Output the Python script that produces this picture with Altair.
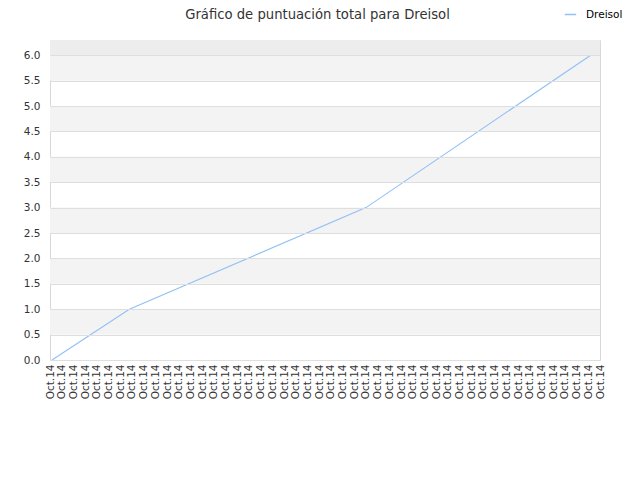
import altair as alt
import pandas as pd

# Data
x_labels = ["Oct.14"] * 48
line_pos = [0.17, 6.78, 27.0, 46.2]
line_vals = [0.0, 1.0, 3.0, 6.0]
series_name = "Dreisol"
title_text = "Gráfico de puntuación total para Dreisol"
band_starts = [0.5, 1.5, 2.5, 3.5, 4.5, 5.5]
y_ticks = [0.0, 0.5, 1.0, 1.5, 2.0, 2.5, 3.0, 3.5, 4.0, 4.5, 5.0, 5.5, 6.0]

W, H = 550, 320
Y_MAX = 6.3
X_MAX = len(x_labels) - 1

line_df = pd.DataFrame({"x": line_pos, "y": line_vals, "serie": [series_name] * len(line_pos)})
band_df = pd.DataFrame({"y": band_starts, "y2": [b + 0.5 for b in band_starts]})
top_df = pd.DataFrame({"y": [6.0], "y2": [Y_MAX]})
title_df = pd.DataFrame({"t": [title_text]})

xscale = alt.Scale(domain=[0, X_MAX], nice=False, zero=False)
yscale = alt.Scale(domain=[0, Y_MAX], nice=False)

xaxis = alt.Axis(
    values=list(range(len(x_labels))),
    labelExpr="'" + x_labels[0] + "'",
    labelAngle=-90,
    labelFont="DejaVu Sans",
    labelFontSize=10.5,
    labelColor="#333333",
    labelPadding=4,
    ticks=False,
    domain=False,
    grid=False,
    title=None,
    labelOverlap=False,
    labelFlush=False,
)
yaxis = alt.Axis(
    values=y_ticks,
    format=".1f",
    labelFont="DejaVu Sans",
    labelFontSize=10.5,
    labelColor="#333333",
    labelPadding=10,
    labelOverlap=False,
    labelFlush=False,
    ticks=False,
    domain=False,
    grid=True,
    gridColor="#dedede",
    title=None,
    zindex=1,
)

bands = alt.Chart(band_df).mark_rect(color="#f3f3f3").encode(
    x=alt.value(0), x2=alt.value(W),
    y=alt.Y("y:Q", scale=yscale, axis=yaxis), y2="y2:Q",
)
top_band = alt.Chart(top_df).mark_rect(color="#ededed").encode(
    x=alt.value(0), x2=alt.value(W),
    y=alt.Y("y:Q", scale=yscale, axis=yaxis), y2="y2:Q",
)
line = alt.Chart(line_df).mark_line(strokeWidth=1.1).encode(
    x=alt.X("x:Q", scale=xscale, axis=xaxis),
    y=alt.Y("y:Q", scale=yscale, axis=yaxis),
    color=alt.Color(
        "serie:N",
        scale=alt.Scale(domain=[series_name], range=["#90c0f5"]),
        legend=alt.Legend(
            title=None, orient="none", legendX=514, legendY=-32,
            symbolType="stroke", symbolStrokeWidth=1.5, symbolSize=130,
            labelOffset=9,
            labelFont="DejaVu Sans", labelFontSize=10.5, labelColor="#000000",
        ),
    ),
)
title = alt.Chart(title_df).mark_text(
    font="DejaVu Sans", fontSize=13.2, color="#333333", align="center", baseline="alphabetic"
).encode(text="t:N", x=alt.value(267.5), y=alt.value(-21))

chart = alt.layer(bands, top_band, line, title).properties(
    width=W, height=H,
    padding={"left": 42, "top": 32, "right": 24, "bottom": 110},
    autosize=alt.AutoSizeParams(type="none"),
).configure_view(stroke="#d8d8d8", strokeWidth=1)

chart.save("out.html", embed_options={"renderer": "svg", "actions": False})
